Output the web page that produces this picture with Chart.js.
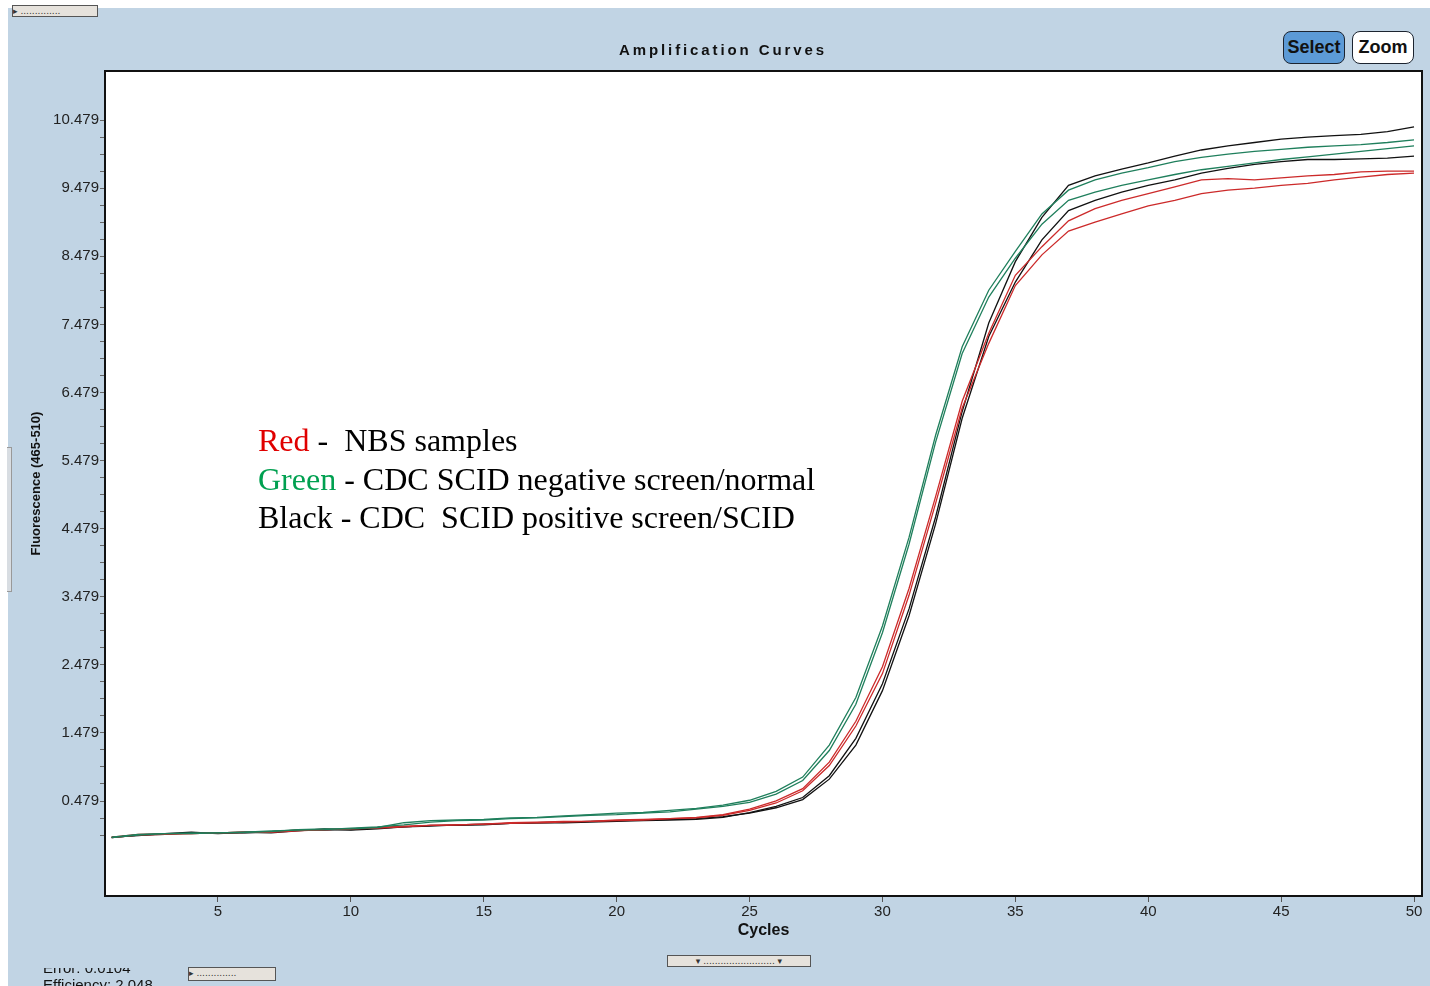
<!DOCTYPE html>
<html lang="en">
<head>
  <meta charset="UTF-8" />
  <title>Amplification Curves</title>
  <script src="https://cdn.jsdelivr.net/npm/chart.js"></script>
  <style>
    html, body { margin: 0; padding: 0; background: #fff; overflow: hidden; width: 1430px; height: 986px; }
    #frame { position: absolute; left: 8px; top: 8px; width: 1422px; height: 978px; background: #c1d4e4; }
    #chart { position: absolute; left: 0; top: 0; }
    .title { position: absolute; left: 523px; top: 41px; width: 400px; text-align: center;
             font: bold 15px 'Liberation Sans', Arial, sans-serif; letter-spacing: 2.9px; color: #111; }
    .btn { position: absolute; top: 31px; height: 31px; width: 60px; border: 1.5px solid #1c2430; border-radius: 8px;
           font: bold 18px 'Liberation Sans', Arial, sans-serif; color: #111; text-align: center; line-height: 31px; }
    #select { left: 1283px; background: #5c9ad6; }
    #zoom { left: 1352px; background: #fff; }
    .note { position: absolute; left: 258px; top: 421px; font: 32px 'Liberation Serif', 'Times New Roman', serif;
            line-height: 38.5px; color: #000; white-space: pre; }
    .tab { position: absolute; background: #e6e2dc; border: 1px solid #555; font: 9px 'DejaVu Sans', sans-serif;
           color: #333; line-height: 10px; overflow: hidden; white-space: pre; }
    #sideTab { position: absolute; left: 7px; top: 447px; width: 4px; height: 143px; border: 1px solid #999; border-left: none; background: #d8dde2; }
    #stats { position: absolute; left: 43px; top: 968px; width: 140px; height: 18px; overflow: hidden; }
    #stats div { position: relative; top: -9px; font: 15px 'Liberation Sans', Arial, sans-serif; color: #111; line-height: 17px; }
  </style>
</head>
<body>
  <div id="frame"></div>
  <canvas id="chart" width="1430" height="986"></canvas>
  <div class="title">Amplification Curves</div>
  <div class="btn" id="select">Select</div>
  <div class="btn" id="zoom">Zoom</div>
  <div class="note"><span style="color:#e00000">Red</span> -  NBS samples
<span style="color:#00a050">Green</span> - CDC SCID negative screen/normal
Black - CDC  SCID positive screen/SCID</div>
  <div class="tab" style="left:12px;top:5px;width:84px;height:10px;">▸ ..............</div>
  <div class="tab" style="left:667px;top:955px;width:142px;height:10px;text-align:center;">▾ ......................... ▾</div>
  <div class="tab" style="left:188px;top:967px;width:86px;height:12px;">▸ ..............</div>
  <div id="sideTab"></div>
  <div id="stats"><div>Error: 0.0104<br>Efficiency: 2.048</div></div>
  <script>
    const cycles = [1, 2, 3, 4, 5, 6, 7, 8, 9, 10, 11, 12, 13, 14, 15, 16, 17, 18, 19, 20, 21, 22, 23, 24, 25,
                    26, 27, 28, 29, 30, 31, 32, 33, 34, 35, 36, 37, 38, 39, 40, 41, 42, 43, 44, 45, 46, 47, 48, 49, 50];

    // NBS samples (red)
    const red1 = [-0.05, -0.01, 0.00, 0.00, 0.01, 0.02, 0.03, 0.05, 0.06, 0.07, 0.09, 0.11, 0.12, 0.13, 0.14, 0.16, 0.17, 0.18, 0.18, 0.20, 0.21, 0.22, 0.24, 0.28, 0.36,
                  0.48, 0.66, 1.05, 1.65, 2.45, 3.60, 4.95, 6.35, 7.35, 8.20, 8.62, 9.00, 9.18, 9.30, 9.40, 9.50, 9.60, 9.62, 9.60, 9.63, 9.66, 9.68, 9.72, 9.73, 9.73];
    const red2 = [-0.06, -0.02, -0.01, 0.00, 0.01, 0.02, 0.02, 0.04, 0.06, 0.07, 0.08, 0.10, 0.12, 0.13, 0.14, 0.15, 0.16, 0.17, 0.18, 0.19, 0.20, 0.22, 0.23, 0.27, 0.34,
                  0.45, 0.63, 1.00, 1.58, 2.35, 3.50, 4.85, 6.25, 7.20, 8.05, 8.50, 8.85, 8.98, 9.10, 9.22, 9.30, 9.40, 9.45, 9.48, 9.52, 9.55, 9.60, 9.64, 9.68, 9.70];
    // CDC SCID negative screen / normal (green)
    const green1 = [-0.05, -0.01, 0.00, 0.00, 0.01, 0.02, 0.03, 0.06, 0.07, 0.07, 0.09, 0.16, 0.19, 0.20, 0.21, 0.23, 0.24, 0.26, 0.28, 0.30, 0.31, 0.34, 0.37, 0.42, 0.49,
                    0.62, 0.83, 1.30, 2.00, 3.05, 4.35, 5.85, 7.15, 7.98, 8.55, 9.10, 9.45, 9.60, 9.70, 9.78, 9.87, 9.93, 9.98, 10.02, 10.05, 10.08, 10.10, 10.12, 10.15, 10.19];
    const green2 = [-0.06, -0.02, 0.00, 0.01, 0.01, 0.02, 0.04, 0.05, 0.06, 0.08, 0.10, 0.13, 0.17, 0.19, 0.20, 0.22, 0.23, 0.25, 0.27, 0.28, 0.30, 0.32, 0.36, 0.40, 0.46,
                    0.58, 0.78, 1.22, 1.90, 2.95, 4.25, 5.75, 7.05, 7.88, 8.45, 8.95, 9.30, 9.42, 9.52, 9.60, 9.68, 9.75, 9.80, 9.85, 9.90, 9.94, 9.98, 10.02, 10.06, 10.10];
    // CDC SCID positive screen / SCID (black)
    const black1 = [-0.05, -0.03, 0.00, 0.02, 0.00, 0.02, 0.01, 0.04, 0.07, 0.05, 0.07, 0.10, 0.12, 0.12, 0.13, 0.15, 0.16, 0.16, 0.17, 0.18, 0.19, 0.20, 0.21, 0.24, 0.31,
                    0.40, 0.53, 0.85, 1.40, 2.20, 3.30, 4.65, 6.20, 7.50, 8.40, 9.05, 9.52, 9.66, 9.76, 9.85, 9.95, 10.04, 10.10, 10.15, 10.20, 10.23, 10.25, 10.27, 10.31, 10.38];
    const black2 = [-0.06, -0.02, -0.01, 0.01, 0.01, 0.01, 0.03, 0.05, 0.05, 0.06, 0.08, 0.10, 0.11, 0.13, 0.14, 0.15, 0.16, 0.17, 0.18, 0.19, 0.20, 0.21, 0.22, 0.25, 0.30,
                    0.38, 0.50, 0.80, 1.30, 2.10, 3.20, 4.55, 6.10, 7.30, 8.10, 8.72, 9.15, 9.30, 9.42, 9.52, 9.60, 9.70, 9.77, 9.83, 9.87, 9.90, 9.90, 9.91, 9.92, 9.95];

    const xTicks = [5, 10, 15, 20, 25, 30, 35, 40, 45, 50];
    const yTicks = [0.479, 1.479, 2.479, 3.479, 4.479, 5.479, 6.479, 7.479, 8.479, 9.479, 10.479];
    const yTickLabels = ['0.479', '1.479', '2.479', '3.479', '4.479', '5.479', '6.479', '7.479', '8.479', '9.479', '10.479'];

    const toPoints = arr => arr.map((v, i) => ({ x: cycles[i], y: v }));
    const line = (data, color) => ({ data: toPoints(data), borderColor: color, borderWidth: 1.3, pointRadius: 0, tension: 0, fill: false });

    // fondo bianco e cornice dell'area del grafico
    const plotFrame = {
      id: 'plotFrame',
      beforeDraw(chart) {
        const { ctx, chartArea: a } = chart;
        ctx.save();
        ctx.fillStyle = '#fff';
        ctx.fillRect(a.left, a.top, a.right - a.left, a.bottom - a.top);
        ctx.restore();
      },
      afterDraw(chart) {
        const { ctx, chartArea: a } = chart;
        ctx.save();
        ctx.strokeStyle = '#111';
        ctx.lineWidth = 2;
        ctx.strokeRect(a.left, a.top, a.right - a.left, a.bottom - a.top);
        ctx.restore();
      }
    };

    const tickFont = { family: "'Liberation Sans', Arial, sans-serif", size: 15 };

    new Chart(document.getElementById('chart').getContext('2d'), {
      type: 'line',
      data: {
        datasets: [
          line(green1, '#1f7f5c'),
          line(green2, '#1f7f5c'),
          line(red1, '#cc2a2a'),
          line(red2, '#cc2a2a'),
          line(black1, '#111111'),
          line(black2, '#111111')
        ]
      },
      options: {
        responsive: false,
        animation: false,
        layout: { padding: { left: 0, right: 8, top: 71, bottom: 44 } },
        plugins: { legend: { display: false }, tooltip: { enabled: false } },
        scales: {
          x: {
            type: 'linear', min: 0.75, max: 50.3,
            afterBuildTicks: s => { s.ticks = xTicks.map(v => ({ value: v })); },
            afterFit: s => { s.height = 46; },
            grid: { drawOnChartArea: false, tickLength: 6, tickColor: '#555' },
            border: { display: false },
            ticks: { font: tickFont, color: '#222', padding: 1, maxRotation: 0, autoSkip: false },
            title: { display: true, text: 'Cycles', color: '#111', padding: { top: 0, bottom: 2 },
                     font: { family: "'Liberation Sans', Arial, sans-serif", size: 16, weight: 'bold' } }
          },
          y: {
            min: -0.916, max: 11.2,
            afterBuildTicks: s => {
              const t = [];
              yTicks.forEach((v, i) => {
                t.push({ value: v });
                if (i < yTicks.length - 1) [0.25, 0.5, 0.75].forEach(f => t.push({ value: v + f }));
              });
              [0.25, 0.5].forEach(f => t.push({ value: yTicks[0] - f }));
              s.ticks = t;
            },
            afterFit: s => { s.width = 105; },
            grid: { drawOnChartArea: false, tickLength: 5, tickColor: '#666' },
            border: { display: false },
            ticks: {
              font: tickFont, color: '#222', padding: 1, autoSkip: false,
              callback: v => {
                const i = yTicks.findIndex(m => Math.abs(m - v) < 1e-6);
                return i >= 0 ? yTickLabels[i] : '';
              }
            },
            title: { display: true, text: 'Fluorescence (465-510)', color: '#111', padding: { top: 29, bottom: 0 },
                     font: { family: "'Liberation Sans', Arial, sans-serif", size: 13, weight: 'bold' } }
          }
        }
      },
      plugins: [plotFrame]
    });
  </script>
</body>
</html>
